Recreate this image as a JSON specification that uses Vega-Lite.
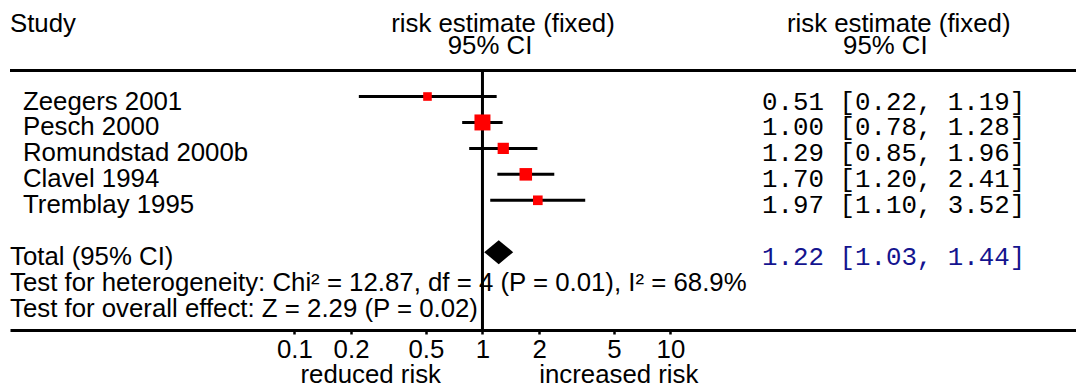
{
  "$schema": "https://vega.github.io/schema/vega-lite/v6.json",
  "width": 1066,
  "height": 330,
  "autosize": {"type": "none"},
  "padding": {"left": 10, "top": 0, "right": 0, "bottom": 57},
  "background": "white",
  "config": {
    "view": {"stroke": null},
    "font": "Liberation Sans",
    "text": {"font": "Liberation Sans", "fontSize": 25.8, "color": "black"},
    "axisX": {
      "grid": false,
      "domainColor": "black",
      "domainWidth": 3,
      "tickColor": "black",
      "tickWidth": 2.5,
      "tickSize": 4,
      "labelPadding": 3,
      "labelFont": "Liberation Sans",
      "labelFontSize": 25.8,
      "labelColor": "black",
      "labelFlush": false,
      "labelOverlap": false
    }
  },
  "datasets": {
    "studies": [
      {"row": 1, "study": "Zeegers 2001", "est": 0.51, "lo": 0.22, "hi": 1.19, "weight": 4.05, "ci": "0.51 [0.22, 1.19]"},
      {"row": 2, "study": "Pesch 2000", "est": 1.00, "lo": 0.78, "hi": 1.28, "weight": 47.1, "ci": "1.00 [0.78, 1.28]"},
      {"row": 3, "study": "Romundstad 2000b", "est": 1.29, "lo": 0.85, "hi": 1.96, "weight": 16.5, "ci": "1.29 [0.85, 1.96]"},
      {"row": 4, "study": "Clavel 1994", "est": 1.70, "lo": 1.20, "hi": 2.41, "weight": 23.8, "ci": "1.70 [1.20, 2.41]"},
      {"row": 5, "study": "Tremblay 1995", "est": 1.97, "lo": 1.10, "hi": 3.52, "weight": 8.5, "ci": "1.97 [1.10, 3.52]"}
    ],
    "total": [
      {"row": 7, "study": "Total (95% CI)", "est": 1.22, "lo": 1.03, "hi": 1.44, "ci": "1.22 [1.03, 1.44]"}
    ],
    "notes": [
      {"row": 7, "text": "Total (95% CI)"},
      {"row": 8, "text": "Test for heterogeneity: Chi² = 12.87, df = 4 (P = 0.01), I² = 68.9%"},
      {"row": 9, "text": "Test for overall effect: Z = 2.29 (P = 0.02)"}
    ]
  },
  "layer": [
    {
      "data": {"values": [{}]},
      "mark": {"type": "rule", "strokeWidth": 3, "color": "black"},
      "encoding": {
        "y": {"datum": 0, "type": "quantitative", "scale": {"domain": [-2.72, 10], "reverse": true, "nice": false, "zero": false}, "axis": null}
      }
    },
    {
      "data": {"values": [{}]},
      "mark": {"type": "rule", "strokeWidth": 3, "color": "black"},
      "encoding": {
        "x": {"datum": 1, "type": "quantitative", "title": null},
        "y": {"datum": 0, "type": "quantitative", "axis": null},
        "y2": {"datum": 10}
      }
    },
    {
      "data": {"name": "studies"},
      "mark": {"type": "rule", "strokeWidth": 3, "color": "black"},
      "encoding": {
        "x": {"field": "lo", "type": "quantitative", "title": null,
              "scale": {"type": "log", "domain": [0.003069, 1435.5], "nice": false},
              "axis": {"values": [0.1, 0.2, 0.5, 1, 2, 5, 10], "format": "~g", "title": null}},
        "x2": {"field": "hi"},
        "y": {"field": "row", "type": "quantitative", "axis": null}
      }
    },
    {
      "data": {"name": "studies"},
      "mark": {"type": "square", "color": "#ff0000", "opacity": 1},
      "encoding": {
        "x": {"field": "est", "type": "quantitative", "title": null},
        "y": {"field": "row", "type": "quantitative", "axis": null},
        "size": {"field": "weight", "type": "quantitative", "scale": {"domain": [0, 50], "range": [57, 268]}, "legend": null}
      }
    },
    {
      "data": {"name": "total"},
      "mark": {"type": "point", "filled": true, "color": "black", "opacity": 1, "size": 841, "shape": "M-1,0L0,-0.83L1,0L0,0.83Z"},
      "encoding": {
        "x": {"field": "est", "type": "quantitative", "title": null},
        "y": {"field": "row", "type": "quantitative", "axis": null}
      }
    },
    {
      "data": {"name": "studies"},
      "mark": {"type": "text", "align": "left", "baseline": "middle", "dy": 5},
      "encoding": {
        "x": {"datum": 0.003598, "type": "quantitative", "title": null},
        "y": {"field": "row", "type": "quantitative", "axis": null},
        "text": {"field": "study"}
      }
    },
    {
      "data": {"name": "notes"},
      "mark": {"type": "text", "align": "left", "baseline": "middle", "dy": 5},
      "encoding": {
        "x": {"datum": 0.003069, "type": "quantitative", "title": null},
        "y": {"field": "row", "type": "quantitative", "axis": null},
        "text": {"field": "text"}
      }
    },
    {
      "data": {"name": "studies"},
      "mark": {"type": "text", "align": "left", "baseline": "middle", "dy": 5, "font": "Liberation Mono", "fontSize": 25.8},
      "encoding": {
        "x": {"datum": 30.7, "type": "quantitative", "title": null},
        "y": {"field": "row", "type": "quantitative", "axis": null},
        "text": {"field": "ci"}
      }
    },
    {
      "data": {"name": "total"},
      "mark": {"type": "text", "align": "left", "baseline": "middle", "dy": 5, "font": "Liberation Mono", "fontSize": 25.8, "color": "#14148f"},
      "encoding": {
        "x": {"datum": 30.7, "type": "quantitative", "title": null},
        "y": {"field": "row", "type": "quantitative", "axis": null},
        "text": {"field": "ci"}
      }
    },
    {
      "data": {"values": [{"text": "Study"}]},
      "mark": {"type": "text", "align": "left", "baseline": "middle", "dy": 5},
      "encoding": {
        "x": {"datum": 0.003069, "type": "quantitative", "title": null},
        "y": {"datum": -2, "type": "quantitative", "axis": null},
        "text": {"field": "text"}
      }
    },
    {
      "data": {"values": [{"text": "risk estimate (fixed)"}]},
      "mark": {"type": "text", "align": "center", "baseline": "middle", "dy": 5},
      "encoding": {
        "x": {"datum": 1.286, "type": "quantitative", "title": null},
        "y": {"datum": -2, "type": "quantitative", "axis": null},
        "text": {"field": "text"}
      }
    },
    {
      "data": {"values": [{"text": "95% CI"}]},
      "mark": {"type": "text", "align": "center", "baseline": "middle", "dy": 5},
      "encoding": {
        "x": {"datum": 1.097, "type": "quantitative", "title": null},
        "y": {"datum": -1.15, "type": "quantitative", "axis": null},
        "text": {"field": "text"}
      }
    },
    {
      "data": {"values": [{"text": "risk estimate (fixed)"}]},
      "mark": {"type": "text", "align": "center", "baseline": "middle", "dy": 5},
      "encoding": {
        "x": {"datum": 163.7, "type": "quantitative", "title": null},
        "y": {"datum": -2, "type": "quantitative", "axis": null},
        "text": {"field": "text"}
      }
    },
    {
      "data": {"values": [{"text": "95% CI"}]},
      "mark": {"type": "text", "align": "center", "baseline": "middle", "dy": 5},
      "encoding": {
        "x": {"datum": 139.0, "type": "quantitative", "title": null},
        "y": {"datum": -1.15, "type": "quantitative", "axis": null},
        "text": {"field": "text"}
      }
    },
    {
      "data": {"values": [{"text": "reduced risk"}]},
      "mark": {"type": "text", "align": "center", "baseline": "middle", "dy": 5},
      "encoding": {
        "x": {"datum": 0.2544, "type": "quantitative", "title": null},
        "y": {"datum": 11.54, "type": "quantitative", "axis": null},
        "text": {"field": "text"}
      }
    },
    {
      "data": {"values": [{"text": "increased risk"}]},
      "mark": {"type": "text", "align": "center", "baseline": "middle", "dy": 5},
      "encoding": {
        "x": {"datum": 5.312, "type": "quantitative", "title": null},
        "y": {"datum": 11.54, "type": "quantitative", "axis": null},
        "text": {"field": "text"}
      }
    }
  ]
}
